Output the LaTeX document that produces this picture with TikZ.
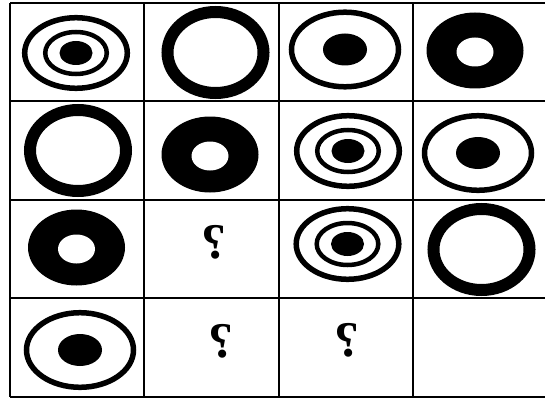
\documentclass[tikz,border=0pt]{standalone}
\usepackage{fontspec}
\setmainfont{Liberation Serif}
\usepackage{graphicx}
\definecolor{inkblack}{HTML}{000000}
\tikzset{
  gridline/.style={line width=2pt, draw=inkblack},
  thinring/.style={line width=5.5pt, draw=inkblack},
  midring/.style={line width=4.5pt, draw=inkblack},
  thickring/.style={line width=12pt, draw=inkblack},
  blot/.style={fill=inkblack},
  hole/.style={fill=white},
  qmark/.style={inner sep=0pt, font=\fontsize{50}{50}\selectfont\bfseries},
  target/.pic={
    \draw[thinring] (0,0) ellipse [x radius=51.3, y radius=35.3];
    \draw[midring] (0,0) ellipse [x radius=30.8, y radius=21];
    \fill[blot] (0,0) ellipse [x radius=16.5, y radius=12];
  },
  openring/.pic={
    \draw[thickring] (0,0) ellipse [x radius=48, y radius=40.5];
  },
  ringdot/.pic={
    \draw[thinring] (0,0) ellipse [x radius=53.5, y radius=37.3];
    \fill[blot] (0,0) ellipse [x radius=22, y radius=16];
  },
  donut/.pic={
    \fill[blot] (0,0) ellipse [x radius=48.5, y radius=38];
    \fill[hole] (0,1.5) ellipse [x radius=18.5, y radius=14.5];
  }
}
\begin{document}
\begin{tikzpicture}[x=1pt, y=-1pt]
\useasboundingbox (0,0) rectangle (545,401);

% grid
\foreach \gx in {10,144,279,413}
  \draw[gridline] (\gx,3) -- (\gx,397);
\foreach \gy in {3,101,200,298,397}
  \draw[gridline] (10,\gy) -- (546,\gy);

% row 1
\pic at (76,53) {target};
\pic at (215.5,52.5) {openring};
\pic at (345,49.5) {ringdot};
\pic at (475,50.5) {donut};

% row 2
\pic at (78,150.5) {openring};
\pic at (210,154.5) {donut};
\pic at (348,151) {target};
\pic at (478,153) {ringdot};

% row 3
\pic at (76.5,247.5) {donut};
\node[qmark] (q1) at (214,242.5) {\reflectbox{?}};
\pic at (347.5,244) {target};
\pic at (481.5,249.5) {openring};

% row 4
\pic at (80,350) {ringdot};
\node[qmark] (q2) at (221,341) {\reflectbox{?}};
\node[qmark] (q3) at (346.5,340) {\reflectbox{?}};

\end{tikzpicture}
\end{document}
